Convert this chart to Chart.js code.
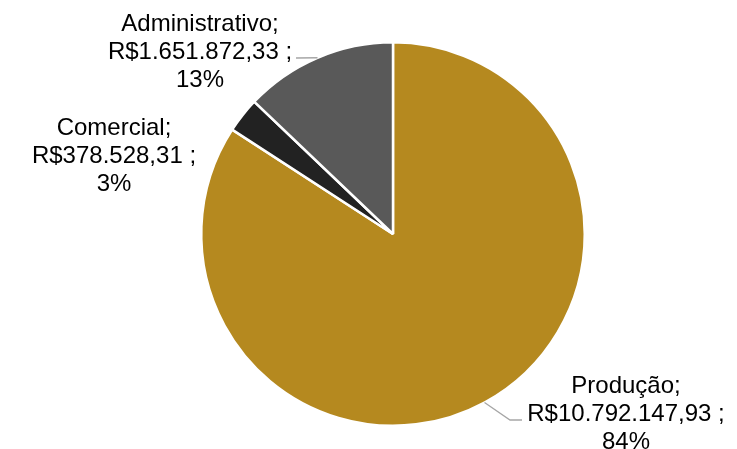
<!DOCTYPE html>
<html>
<head>
<meta charset="utf-8">
<script src="https://cdn.jsdelivr.net/npm/chart.js@4/dist/chart.umd.min.js"></script>
<style>
  html, body { margin: 0; padding: 0; background: #fff; }
  #wrap { width: 737px; height: 449px; }
</style>
</head>
<body>
<div id="wrap"><canvas id="c" width="737" height="449"></canvas></div>
<script>
const categories = ['Produção', 'Comercial', 'Administrativo'];
const values = [10792147.93, 378528.31, 1651872.33];
const sliceColors = ['#B5891F', '#222222', '#595959'];

// where each label block sits (centre x, first baseline y) and its leader bend
const labelSpots = [
  { x: 626, y: 393, line: [[522, 420], [510, 420]] },
  { x: 114, y: 135, line: null },
  { x: 200, y: 31, line: [[296, 58]] }
];

const total = values.reduce((a, b) => a + b, 0);

const fmtMoney = function (v) {
  let parts = v.toFixed(2).split('.');
  let intPart = parts[0].replace(/\B(?=(\d{3})+(?!\d))/g, '.');
  return 'R$' + intPart + ',' + parts[1];
};

const labelPlugin = {
  id: 'pieLabels',
  afterDraw(chart) {
    const ctx = chart.ctx;
    const arcs = chart.getDatasetMeta(0).data;
    ctx.save();
    arcs.forEach((arc, i) => {
      const spot = labelSpots[i];
      const mid = (arc.startAngle + arc.endAngle) / 2;
      const ex = arc.x + Math.cos(mid) * arc.outerRadius;
      const ey = arc.y + Math.sin(mid) * arc.outerRadius;
      if (spot.line) {
        ctx.strokeStyle = '#A6A6A6';
        ctx.lineWidth = 1.3;
        ctx.beginPath();
        ctx.moveTo(spot.line[0][0], spot.line[0][1]);
        for (let k = 1; k < spot.line.length; k++) ctx.lineTo(spot.line[k][0], spot.line[k][1]);
        ctx.lineTo(ex, ey);
        ctx.stroke();
      }
      const pct = Math.round(values[i] / total * 100) + '%';
      const lines = [categories[i] + ';', fmtMoney(values[i]) + ' ;', pct];
      ctx.fillStyle = '#000';
      ctx.font = '24px "Liberation Sans", Arial, sans-serif';
      ctx.textAlign = 'center';
      ctx.textBaseline = 'alphabetic';
      lines.forEach((t, k) => ctx.fillText(t, spot.x, spot.y + k * 28));
    });
    ctx.restore();
  }
};

new Chart(document.getElementById('c'), {
  type: 'pie',
  data: {
    labels: categories,
    datasets: [{
      data: values,
      backgroundColor: sliceColors,
      borderColor: '#FFFFFF',
      borderWidth: 2.5
    }]
  },
  options: {
    responsive: false,
    animation: false,
    layout: { padding: { left: 200, right: 151, top: 41, bottom: 22 } },
    plugins: {
      legend: { display: false },
      tooltip: { enabled: false }
    }
  },
  plugins: [labelPlugin]
});
</script>
</body>
</html>
